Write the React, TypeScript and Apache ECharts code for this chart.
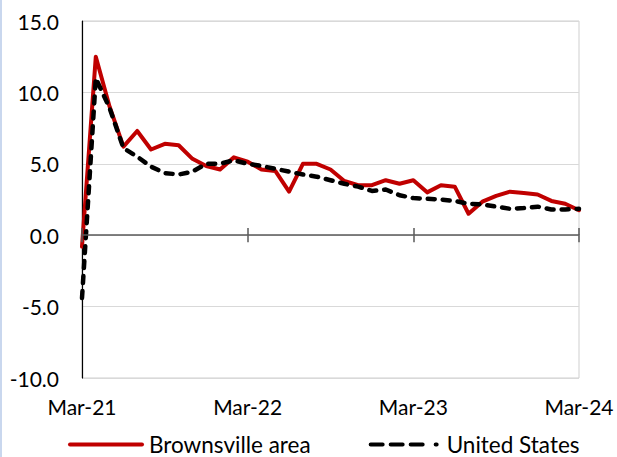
import React, { useEffect, useRef } from "react";
import * as echarts from "echarts";

const months = [
  "Mar-21","Apr-21","May-21","Jun-21","Jul-21","Aug-21","Sep-21","Oct-21","Nov-21","Dec-21","Jan-22","Feb-22",
  "Mar-22","Apr-22","May-22","Jun-22","Jul-22","Aug-22","Sep-22","Oct-22","Nov-22","Dec-22","Jan-23","Feb-23",
  "Mar-23","Apr-23","May-23","Jun-23","Jul-23","Aug-23","Sep-23","Oct-23","Nov-23","Dec-23","Jan-24","Feb-24",
  "Mar-24",
];

const brownsville = [
  -0.8, 12.5, 9.0, 6.2, 7.3, 6.0, 6.4, 6.3, 5.35, 4.85, 4.6, 5.45,
  5.15, 4.6, 4.5, 3.05, 5.0, 5.0, 4.6, 3.8, 3.5, 3.5, 3.85, 3.6,
  3.85, 3.0, 3.5, 3.4, 1.5, 2.35, 2.75, 3.05, 2.95, 2.85, 2.4, 2.2,
  1.75,
];

const unitedStates = [
  -4.4, 11.0, 8.9, 6.1, 5.5, 4.8, 4.35, 4.25, 4.45, 5.0, 5.0, 5.25,
  5.0, 4.85, 4.65, 4.45, 4.25, 4.1, 3.85, 3.6, 3.4, 3.1, 3.2, 2.8,
  2.6, 2.55, 2.5, 2.4, 2.2, 2.15, 2.0, 1.85, 1.9, 2.0, 1.8, 1.8,
  1.85,
];

const seriesNames = ["Brownsville area", "United States"];

const FONT = "Lato";
const FS = 21;
const LEGEND_FS = 22.5;

const solidIcon = "path://M2,0H74A2,2 0 0 1 74,4H2A2,2 0 0 1 2,0Z";
const dashIcon =
  "path://M2,0H14A2,2 0 0 1 14,4H2A2,2 0 0 1 2,0Z" +
  "M22,0H34A2,2 0 0 1 34,4H22A2,2 0 0 1 22,0Z" +
  "M42,0H54A2,2 0 0 1 54,4H42A2,2 0 0 1 42,0Z" +
  "M67,0H68A2,2 0 0 1 68,4H67A2,2 0 0 1 67,0Z";

export default function App() {
  const ref = useRef<HTMLDivElement>(null);
  useEffect(() => {
    document.body.style.margin = "0";
    const chart = echarts.init(ref.current!, null, { renderer: "svg" });
    chart.setOption({
      animation: false,
      backgroundColor: "#ffffff",
      textStyle: { fontFamily: FONT },
      graphic: [
        { type: "rect", left: 0, top: 0, shape: { width: 2, height: 457 }, style: { fill: "#c9d7ee" }, silent: true },
      ],
      grid: {
        left: 82,
        right: 38,
        top: 21,
        bottom: 79,
        show: true,
        borderColor: "#cfcfcf",
        borderWidth: 1,
        backgroundColor: "transparent",
      },
      legend: {
        left: 63,
        top: 428,
        itemWidth: 76,
        itemHeight: 4,
        itemGap: 58,
        textStyle: { fontFamily: FONT, fontSize: LEGEND_FS, color: "#000" },
        data: [
          { name: seriesNames[0], icon: solidIcon },
          { name: seriesNames[1], icon: dashIcon },
        ],
      },
      xAxis: [
        {
          type: "category",
          data: months,
          boundaryGap: false,
          position: "bottom",
          axisLine: { show: true, onZero: true, lineStyle: { color: "#595959", width: 1.5 } },
          axisTick: { show: true, interval: 11, length: 7, lineStyle: { color: "#595959", width: 1.5 } },
          axisLabel: { show: false },
          splitLine: { show: false },
          z: 5,
        },
        {
          type: "category",
          data: months,
          boundaryGap: false,
          position: "top",
          offset: -214,
          axisLine: { show: false, onZero: false },
          axisTick: { show: true, interval: 11, length: 7, lineStyle: { color: "#595959", width: 1.5 } },
          axisLabel: { show: false },
          splitLine: { show: false },
          z: 5,
        },
        {
          type: "category",
          data: months,
          boundaryGap: false,
          position: "bottom",
          axisLine: { show: false, onZero: false },
          axisTick: { show: false },
          axisLabel: {
            show: true,
            interval: 11,
            margin: 18,
            fontFamily: FONT,
            fontSize: FS,
            color: "#000",
            showMinLabel: true,
            showMaxLabel: true,
          },
          splitLine: { show: false },
        },
      ],
      yAxis: {
        type: "value",
        min: -10,
        max: 15,
        interval: 5,
        axisLine: { show: true, lineStyle: { color: "#000", width: 1.2 } },
        axisTick: { show: false },
        axisLabel: {
          margin: 23,
          fontFamily: FONT,
          fontSize: FS,
          color: "#000",
          formatter: (v: number) => v.toFixed(1),
        },
        splitLine: { show: true, lineStyle: { color: "#d9d9d9", width: 1 } },
      },
      series: [
        {
          name: seriesNames[0],
          type: "line",
          xAxisIndex: 0,
          data: brownsville,
          symbol: "none",
          lineStyle: { color: "#C00000", width: 4, join: "round", cap: "round" },
          itemStyle: { color: "#C00000" },
          z: 3,
        },
        {
          name: seriesNames[1],
          type: "line",
          xAxisIndex: 0,
          data: unitedStates,
          symbol: "none",
          lineStyle: { color: "#000", width: 4.5, type: [7, 8], cap: "round", join: "round" },
          itemStyle: { color: "#000" },
          z: 4,
        },
      ],
    });
    return () => chart.dispose();
  }, []);
  return (
    <div
      ref={ref}
      style={{ position: "absolute", left: 0, top: 0, width: 617, height: 457 }}
    />
  );
}
